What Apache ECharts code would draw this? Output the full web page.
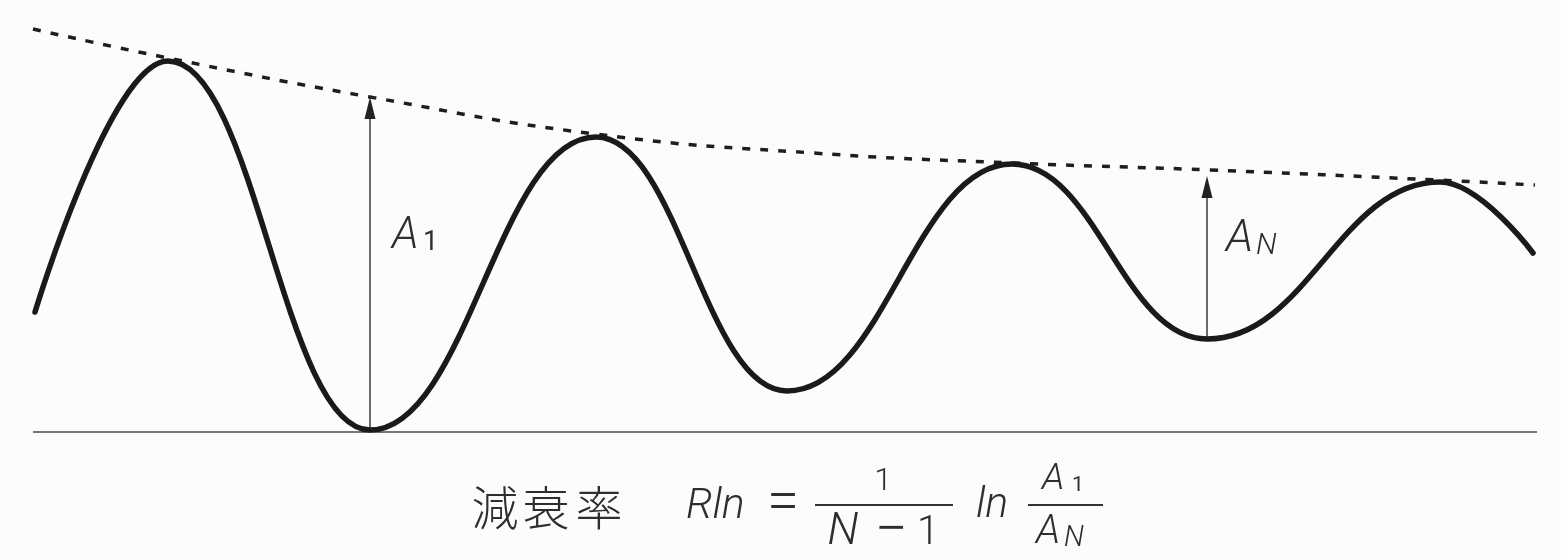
<!DOCTYPE html>
<html>
<head>
<meta charset="utf-8">
<script src="https://cdn.jsdelivr.net/npm/echarts@6/dist/echarts.min.js"></script>
<style>
html,body{margin:0;padding:0;background:#fcfcfc;}
#chart{width:1561px;height:560px;}
</style>
</head>
<body>
<div id="chart"></div>
<script>
// Damped oscillation: start, peaks/troughs, end
// (time, displacement above baseline)
const curveTime = [35, 168, 370, 596, 787, 1012, 1207, 1440, 1533];
const curveDisp = [120, 371, 2, 295, 41, 268, 93, 250, 179];

// Dotted envelope through the peaks
const envTime = [33, 168, 370, 595, 813, 1013, 1210, 1437, 1535];
const envDisp = [403, 374, 335, 298, 279, 269, 262, 252, 247];

// Baseline
const baseTime = [33, 1537];
const baseDisp = [0, 0];

// Amplitude arrows: time, from, to
const arrowTime = [370, 1207];
const arrowFrom = [0, 93];
const arrowTo = [335, 256];

const zip = (a, b) => a.map((v, i) => [v, b[i]]);

const chart = echarts.init(document.getElementById('chart'), null, {renderer: 'canvas'});

const txt = '#2e2e2e';
const latin = 'Roboto, "Liberation Sans", sans-serif';
const cjk = '"Noto Sans CJK JP", "Noto Sans CJK SC", sans-serif';
function t(text, x, y, size, opts) {
  opts = opts || {};
  return {type: 'text', x: x, y: y, silent: true, style: {
    text: text, fill: txt,
    font: (opts.italic ? 'italic ' : '') + (opts.weight || 300) + ' ' + size + 'px ' + (opts.family || latin),
    align: opts.align || 'left', verticalAlign: 'middle'}};
}

const option = {
  backgroundColor: '#fcfcfc',
  animation: false,
  grid: {left: 0, right: 0, top: 0, bottom: 0},
  xAxis: {type: 'value', min: 0, max: 1561, show: false},
  yAxis: {type: 'value', min: -128, max: 432, show: false},
  series: [
    {type: 'line', data: zip(baseTime, baseDisp), showSymbol: false, silent: true,
     lineStyle: {color: '#4a4a4a', width: 1.5}, z: 1},
    {type: 'line', data: zip(envTime, envDisp), showSymbol: false, smooth: 0.5, silent: true,
     lineStyle: {color: '#1e1e1e', width: 3.5, type: [8, 10]}, z: 2},
    {type: 'custom', data: arrowTime.map((x, i) => [x, arrowFrom[i], arrowTo[i]]), silent: true, z: 3,
     renderItem: function (params, api) {
       const x = api.value(0), y0 = api.value(1), y1 = api.value(2);
       const p0 = api.coord([x, y0]), p1 = api.coord([x, y1]);
       const hw = 5.5, hh = 22;
       return {type: 'group', children: [
         {type: 'line', shape: {x1: p0[0], y1: p0[1], x2: p1[0], y2: p1[1] + hh - 2},
          style: {stroke: '#3a3a3a', lineWidth: 1.5}},
         {type: 'polygon', shape: {points: [[p1[0], p1[1]], [p1[0] - hw, p1[1] + hh], [p1[0] + hw, p1[1] + hh]]},
          style: {fill: '#222'}}
       ]};
     }},
    {type: 'line', data: zip(curveTime, curveDisp), showSymbol: false, smooth: 0.43, smoothMonotone: 'x',
     silent: true, lineStyle: {color: '#1a1a1a', width: 5.5, cap: 'round', join: 'round'}, z: 4}
  ],
  graphic: [
    // A1 label
    t('A', 392, 237, 44, {italic: true}),
    t('1', 423, 243, 27, {weight: 400}),
    // AN label
    t('A', 1226, 240, 45, {italic: true}),
    t('N', 1256, 246, 30, {italic: true}),
    // Formula
    t('減', 495, 507, 47, {family: cjk, align: 'center'}),
    t('衰', 546, 507, 47, {family: cjk, align: 'center'}),
    t('率', 599, 507, 47, {family: cjk, align: 'center'}),
    t('Rln', 686, 507, 43, {italic: true}),
    t('=', 783, 505, 58, {align: 'center'}),
    {type: 'line', silent: true, shape: {x1: 815, y1: 505, x2: 953, y2: 505}, style: {stroke: '#333', lineWidth: 2}},
    t('1', 883, 482, 32, {align: 'center'}),
    t('N', 843, 533, 45, {italic: true, align: 'center'}),
    t('−', 891, 533, 58, {align: 'center'}),
    t('1', 928, 534, 40, {align: 'center'}),
    t('ln', 976, 506, 43, {italic: true}),
    {type: 'line', silent: true, shape: {x1: 1028, y1: 505, x2: 1103, y2: 505}, style: {stroke: '#333', lineWidth: 2}},
    t('A', 1042, 480, 37, {italic: true}),
    t('1', 1072, 486, 21, {weight: 400}),
    t('A', 1036, 533, 40, {italic: true}),
    t('N', 1064, 539, 29, {italic: true})
  ]
};
chart.setOption(option);
</script>
</body>
</html>
